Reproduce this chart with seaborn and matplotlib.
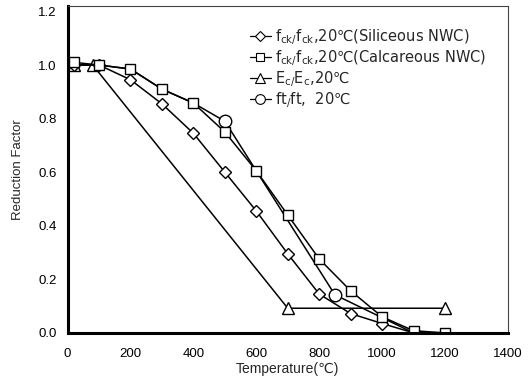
import matplotlib
matplotlib.use("Agg")
import matplotlib.pyplot as plt
import seaborn as sns
from matplotlib.lines import Line2D

# ---- data ----
sil_x = [20, 100, 200, 300, 400, 500, 600, 700, 800, 900, 1000, 1100]
sil_y = [1.0, 1.0, 0.945, 0.855, 0.745, 0.60, 0.455, 0.295, 0.145, 0.072, 0.035, 0.0]

cal_x = [20, 100, 200, 300, 400, 500, 600, 700, 800, 900, 1000, 1100, 1200]
cal_y = [1.01, 1.0, 0.985, 0.91, 0.858, 0.75, 0.605, 0.44, 0.276, 0.157, 0.06, 0.008, 0.0]

ec_x = [20, 80, 700, 1200]
ec_y = [1.0, 1.0, 0.092, 0.092]

ft_x = [20, 100, 200, 300, 400, 500, 850, 1100]
ft_y = [1.0, 1.0, 0.985, 0.91, 0.858, 0.79, 0.142, 0.0]
ft_marked = [5, 6]

labels = [
    r"f$_\mathregular{ck/}$f$_\mathregular{ck}$,20℃(Siliceous NWC)",
    r"f$_\mathregular{ck/}$f$_\mathregular{ck}$,20℃(Calcareous NWC)",
    r"E$_\mathregular{c/}$E$_\mathregular{c}$,20℃",
    r"ft$_\mathregular{/}$ft,  20℃",
]
x_ticks = [0, 200, 400, 600, 800, 1000, 1200, 1400]
y_ticks = [0.0, 0.2, 0.4, 0.6, 0.8, 1.0, 1.2]

sns.set_style("white")
plt.rcParams["font.family"] = ["Liberation Sans", "DejaVu Sans"]
plt.rcParams["mathtext.fontset"] = "custom"
plt.rcParams["mathtext.rm"] = "DejaVu Sans"
plt.rcParams["mathtext.it"] = "DejaVu Sans"

fig = plt.figure(figsize=(5.28, 3.8), dpi=100)
ax = fig.add_axes([0.128, 0.124, 0.834, 0.860])

common = dict(color="black", linewidth=1.1, markerfacecolor="white",
              markeredgecolor="black", markeredgewidth=1.0)

sns.lineplot(x=ec_x, y=ec_y, ax=ax, sort=False, marker="^", markersize=8.5, **common)
sns.lineplot(x=ft_x, y=ft_y, ax=ax, sort=False, marker="o", markersize=9,
             markevery=ft_marked, **common)
sns.lineplot(x=sil_x, y=sil_y, ax=ax, sort=False, marker="D", markersize=6.5, **common)
sns.lineplot(x=cal_x, y=cal_y, ax=ax, sort=False, marker="s", markersize=7, **common)

ax.set_xlim(0, 1400)
ax.set_ylim(0, 1.22)
ax.set_xticks(x_ticks)
ax.set_xticklabels([str(t) for t in x_ticks])
ax.set_yticks(y_ticks)
ax.set_yticklabels([f"{t:.1f}" for t in y_ticks])
ax.tick_params(axis="both", direction="in", length=5, width=1.0,
               labelsize=9.5, colors="black", pad=8)
ax.tick_params(axis="x", pad=11)

for s in ["left", "bottom"]:
    ax.spines[s].set_linewidth(2.2)
    ax.spines[s].set_color("black")
for s in ["top", "right"]:
    ax.spines[s].set_linewidth(0.8)
    ax.spines[s].set_color("#444444")

ax.set_xlabel("Temperature(℃)", fontsize=10, labelpad=1)
ax.set_ylabel("Reduction Factor", fontsize=9.5, labelpad=10)

hs = []
for m, ms in [("D", 5), ("s", 5.5), ("^", 7), ("o", 7)]:
    hs.append(Line2D([], [], color="black", linewidth=0.9, marker=m, markersize=ms,
                     markerfacecolor="white", markeredgecolor="black", markeredgewidth=0.8))
ax.legend(hs, labels, loc="upper left", bbox_to_anchor=(0.40, 0.955), frameon=False,
          prop={"family": "DejaVu Sans", "size": 10.5},
          handlelength=1.45, handletextpad=0.3, labelspacing=0.08,
          borderaxespad=0)

fig.savefig("out.png", dpi=100)
